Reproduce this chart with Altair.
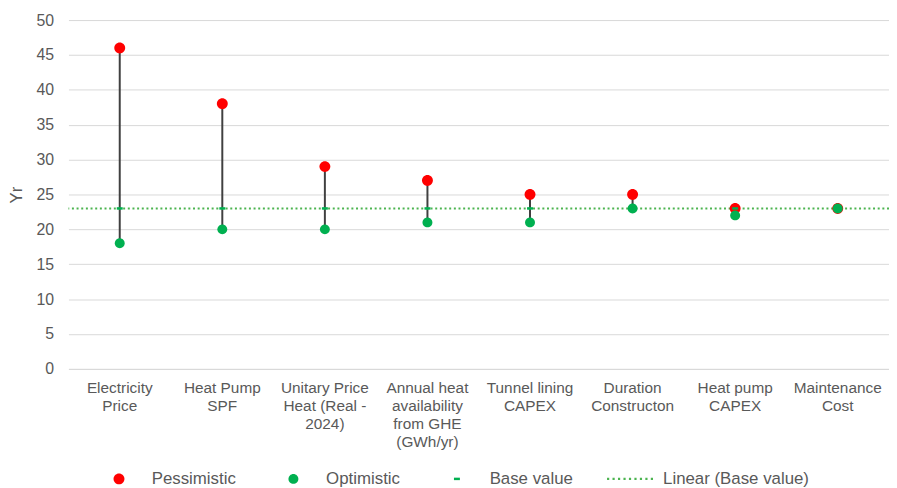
import json
import altair as alt
import pandas as pd

# ---------------- data ----------------
categories = [
    "Electricity Price",
    "Heat Pump SPF",
    "Unitary Price Heat (Real - 2024)",
    "Annual heat availability from GHE (GWh/yr)",
    "Tunnel lining CAPEX",
    "Duration Constructon",
    "Heat pump CAPEX",
    "Maintenance Cost",
]
category_lines = [
    "Electricity|Price",
    "Heat Pump|SPF",
    "Unitary Price|Heat (Real -|2024)",
    "Annual heat|availability|from GHE|(GWh/yr)",
    "Tunnel lining|CAPEX",
    "Duration|Constructon",
    "Heat pump|CAPEX",
    "Maintenance|Cost",
]
pessimistic = [46, 38, 29, 27, 25, 25, 23, 23]
optimistic = [18, 20, 20, 21, 21, 23, 22, 23]
base_value = [23, 23, 23, 23, 23, 23, 23, 23]
series_names = ["Pessimistic", "Optimistic", "Base value", "Linear (Base value)"]
y_ticks = [0, 5, 10, 15, 20, 25, 30, 35, 40, 45, 50]

# ---------------- styles ----------------
FONT = "Liberation Sans"
TXT = "#595959"
GRID = "#D9D9D9"
RED = "#FF0000"
GREEN = "#00B050"
TREND = "#4CB450"
SYM = 2304  # symbol area -> 48px box (path units scaled by 24)


def circle_path(r):
    return (f"M{-r},0 A{r},{r} 0 1,0 {r},0 A{r},{r} 0 1,0 {-r},0 Z")


def rect_path(x0, y0, w, h):
    return f"M{x0},{y0} h{w} v{h} h{-w} Z"


dash_path = rect_path(-0.125, -0.052, 0.25, 0.104)
dots = []
for i in range(9):
    dots.append(rect_path(round(-0.98 + i * 0.23, 3), -0.046, 0.092, 0.092))
dotted_path = " ".join(dots)
shape_paths = [circle_path(0.229), circle_path(0.208), dash_path, dotted_path]
colors = [RED, GREEN, GREEN, TREND]

wide = pd.DataFrame({
    "category": categories,
    "pessimistic": pessimistic,
    "optimistic": optimistic,
    "base": base_value,
})
long = pd.concat([
    pd.DataFrame({"category": categories, "series": "Pessimistic", "value": pessimistic}),
    pd.DataFrame({"category": categories, "series": "Optimistic", "value": optimistic}),
    pd.DataFrame({"category": categories, "series": "Base value", "value": base_value}),
], ignore_index=True)
long["order"] = range(len(long))

label_expr = (
    f"split({json.dumps(category_lines)}[indexof({json.dumps(categories)}, datum.label)], '|')"
)

x_enc = alt.X(
    "category:N",
    sort=categories,
    scale=alt.Scale(paddingInner=0, paddingOuter=0),
    axis=alt.Axis(
        title=None,
        labelExpr=label_expr,
        labelAngle=0,
        labelBaseline="top",
        labelAlign="center",
        labelFont=FONT,
        labelFontSize=15.5,
        labelColor=TXT,
        labelLineHeight=18,
        labelPadding=12,
        labelLimit=300,
        ticks=False,
        domainColor=GRID,
        domainWidth=1,
        grid=False,
    ),
)
y_scale = alt.Scale(domain=[0, 50], nice=False, zero=True)
y_axis = alt.Axis(
    values=y_ticks,
    tickCount=11,
    labelOverlap=False,
    title="Yr",
    titleFont=FONT,
    titleFontSize=17,
    titleFontWeight="normal",
    titleColor=TXT,
    titleAngle=-90,
    titleX=-52,
    titleY=176,
    titleAlign="center",
    titleBaseline="middle",
    labelFont=FONT,
    labelFontSize=16,
    labelColor=TXT,
    labelPadding=15,
    ticks=False,
    domain=False,
    grid=True,
    gridColor=GRID,
    gridWidth=1,
)

stems = alt.Chart(wide).mark_rule(color="#404040", strokeWidth=2).encode(
    x=x_enc,
    y=alt.Y("optimistic:Q", scale=y_scale, axis=y_axis),
    y2="pessimistic:Q",
)

trend = alt.Chart(wide).mark_rule(
    color=TREND, strokeWidth=2, strokeDash=[2, 2.7]
).encode(y=alt.Y("mean(base):Q", scale=y_scale, axis=y_axis))

legend = alt.Legend(
    title=None,
    orient="none",
    legendX=27,
    legendY=439,
    direction="horizontal",
    symbolSize=SYM,
    symbolStrokeWidth=0,
    labelFont=FONT,
    labelFontSize=17,
    labelColor=TXT,
    labelOffset=9,
    columnPadding=33,
    padding=0,
    labelLimit=400,
)

points = alt.Chart(long).mark_point(filled=True, opacity=1, strokeWidth=0, size=SYM).encode(
    x=x_enc,
    y=alt.Y("value:Q", scale=y_scale, axis=y_axis),
    color=alt.Color("series:N", scale=alt.Scale(domain=series_names, range=colors), legend=legend),
    shape=alt.Shape("series:N", scale=alt.Scale(domain=series_names, range=shape_paths), legend=legend),
    order=alt.Order("order:Q"),
)

chart = alt.layer(stems, trend, points).properties(
    width=828,
    height=352,
    padding={"left": 61, "top": 10, "right": 0, "bottom": 117},
    autosize=alt.AutoSizeParams(type="none"),
    background="white",
).configure_view(stroke=None)

chart.save("out.html", embed_options={"renderer": "svg", "actions": False})
